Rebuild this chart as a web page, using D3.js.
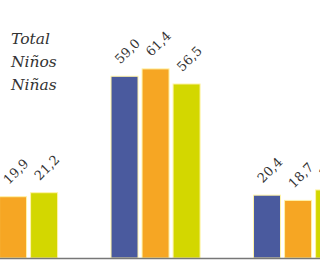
<!DOCTYPE html>
<html>
<head>
<meta charset="utf-8">
<script src="https://cdn.jsdelivr.net/npm/d3@7"></script>
<style>
  body { margin: 0; background: #fff; }
  svg { display: block; }
</style>
</head>
<body>
<svg id="chart" width="320" height="260"></svg>
<script>
// data
const groups = ['Grupo 1', 'Grupo 2', 'Grupo 3']
const series = ['Total', 'Niños', 'Niñas']
const total = [20.5, 59.0, 20.4]
const ninos = [19.9, 61.4, 18.7]
const ninas = [21.2, 56.5, 22.1]
const colors = ['#4a5a9e', '#f6a623', '#d3d700']

const values = [total, ninos, ninas]
const rows = groups.map((g, i) => ({
  group: g,
  vals: series.map((s, j) => ({ key: s, value: values[j][i], color: colors[j] }))
}))

const svg = d3.select('#chart')
const baseY = 258

// outer scale: groups, wider than the window so the chart shows cropped
const x0 = d3.scaleBand()
  .domain(groups)
  .range([-58.2, 369.3])
  .paddingInner(0.375)
  .paddingOuter(0.1875)

const x1 = d3.scaleBand()
  .domain(series)
  .range([0, x0.bandwidth()])
  .paddingInner(0.13)
  .paddingOuter(0)

const y = d3.scaleLinear().domain([0, 80]).range([baseY, baseY - 80 * 3.08])

const fmt = v => d3.format('.1f')(v).replace('.', ',')

const g = svg.selectAll('.group')
  .data(rows)
  .enter()
  .append('g')
  .attr('class', 'group')
  .attr('transform', d => `translate(${x0(d.group)},0)`)

g.selectAll('rect')
  .data(d => d.vals)
  .enter()
  .append('rect')
  .attr('x', d => x1(d.key))
  .attr('y', d => y(d.value))
  .attr('width', x1.bandwidth())
  .attr('height', d => y(0) - y(d.value))
  .attr('fill', d => d.color)
  .attr('stroke', '#fff3a8')
  .attr('stroke-width', 1)

g.selectAll('text')
  .data(d => d.vals)
  .enter()
  .append('text')
  .attr('transform', d => `translate(${x1(d.key) + x1.bandwidth() / 2 + 6},${y(d.value) - 22}) rotate(-45)`)
  .attr('text-anchor', 'middle')
  .attr('font-family', 'DejaVu Serif')
  .attr('font-size', 13)
  .attr('fill', '#333')
  .text(d => fmt(d.value))

// baseline
svg.append('line')
  .attr('x1', 0).attr('x2', 320)
  .attr('y1', baseY + 0.5).attr('y2', baseY + 0.5)
  .attr('stroke', '#777')
  .attr('stroke-width', 1.5)

// legend, text only
svg.selectAll('.legend')
  .data(series)
  .enter()
  .append('text')
  .attr('class', 'legend')
  .attr('x', 11)
  .attr('y', (d, i) => 44 + i * 23)
  .attr('font-family', 'DejaVu Serif')
  .attr('font-style', 'italic')
  .attr('font-size', 15.5)
  .attr('fill', '#333')
  .text(d => d)
</script>
</body>
</html>
